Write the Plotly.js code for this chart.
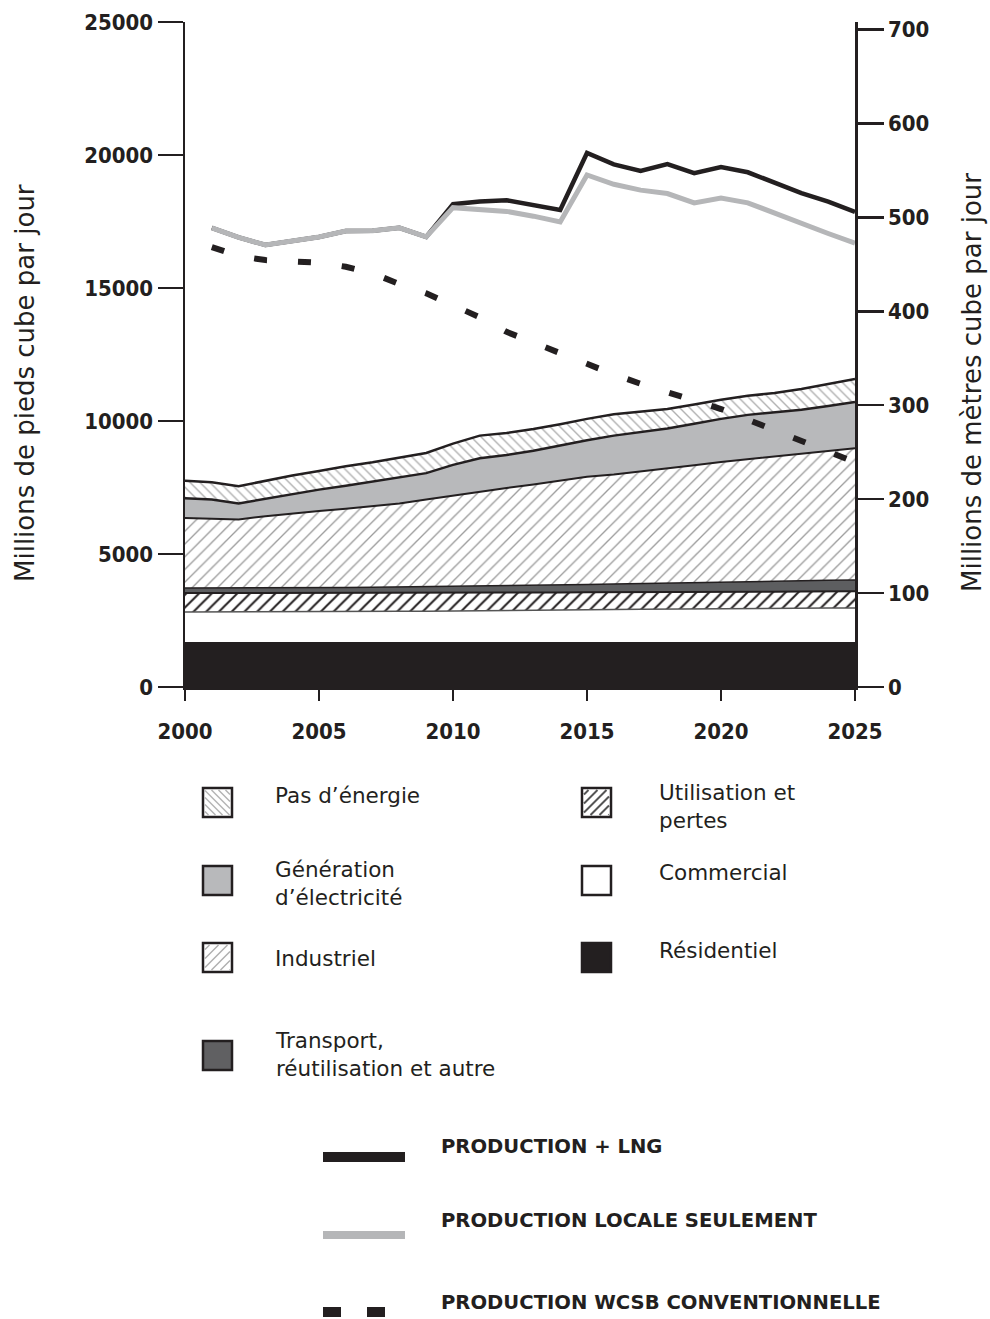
<!DOCTYPE html>
<html><head><meta charset="utf-8">
<script src="https://cdn.plot.ly/plotly-3.0.1.min.js"></script>
<style>body{margin:0;background:#fff}#chart{width:990px;height:1319px}</style>
</head><body><div id="chart"></div>
<script>
// ---------- DATA (millions of cubic feet per day) ----------
const years = [2000,2001,2002,2003,2004,2005,2006,2007,2008,2009,2010,2011,2012,2013,2014,2015,2016,2017,2018,2019,2020,2021,2022,2023,2024,2025];
const residentiel = [1690,1690,1690,1690,1690,1690,1690,1690,1690,1690,1690,1690,1690,1690,1690,1690,1690,1690,1690,1690,1690,1690,1690,1690,1690,1690];
const commercial  = [1130,1130,1130,1135,1140,1140,1145,1150,1155,1160,1165,1170,1180,1190,1200,1210,1220,1230,1240,1250,1260,1265,1270,1275,1280,1280];
const utilisation = [710,710,710,705,700,700,700,695,695,690,690,685,680,670,665,660,650,645,640,630,625,625,625,625,625,630];
const transport   = [190,190,190,195,200,200,205,215,220,230,235,245,250,260,275,290,310,325,340,360,375,385,395,405,415,420];
const industriel  = [2630,2610,2580,2695,2800,2890,2960,3040,3140,3280,3420,3560,3680,3800,3920,4050,4120,4210,4310,4410,4510,4595,4680,4765,4860,4960];
const electricite = [750,720,600,660,730,800,870,930,980,990,1150,1250,1240,1270,1330,1380,1460,1480,1500,1560,1620,1670,1660,1660,1690,1730];
const pasEnergie  = [650,650,650,670,690,700,730,730,740,760,800,850,830,820,800,800,800,770,730,720,720,720,730,780,820,870];

const lineYears = [2001,2002,2003,2004,2005,2006,2007,2008,2009,2010,2011,2012,2013,2014,2015,2016,2017,2018,2019,2020,2021,2022,2023,2024,2025];
const productionLNG = [17260,16900,16620,16780,16920,17140,17150,17260,16920,18150,18250,18300,18120,17930,20075,19650,19400,19660,19320,19550,19350,18950,18570,18250,17860];
const productionLocale = [17260,16900,16620,16780,16920,17140,17150,17260,16920,18020,17950,17880,17700,17480,19250,18900,18680,18550,18200,18380,18200,17800,17400,17050,16690];
const productionWCSB = [16540,16200,16050,16000,15950,15800,15550,15150,14800,14350,13900,13350,12950,12550,12100,11750,11400,11100,10800,10450,10050,9650,9200,8800,8450];

const xTicks = [2000,2005,2010,2015,2020,2025];
const yTicksLeft = [0,5000,10000,15000,20000,25000];
const yTickTextLeft = ['0','5000','10000','15000','20000','25000'];
const yTicksRight = [0,100,200,300,400,500,600,700];
const FT3_PER_M3 = 35.3147;

const labels = {
  yLeft: 'Millions de pieds cube par jour',
  yRight: 'Millions de mètres cube par jour',
  pas: "Pas d’énergie",
  elec: "Génération<br>d’électricité",
  ind: "Industriel",
  trans: "Transport,<br>réutilisation et autre",
  util: "Utilisation et<br>pertes",
  com: "Commercial",
  res: "Résidentiel",
  lng: "PRODUCTION + LNG",
  loc: "PRODUCTION LOCALE SEULEMENT",
  wcsb: "PRODUCTION WCSB CONVENTIONNELLE"
};

// ---------- STYLE ----------
const INK = '#231f20';
const GREY = '#b8b9bb';
const DARK = '#5d5e60';

function band(y, name, extra){
  return Object.assign({x: years, y: y, name: name, type:'scatter', mode:'lines',
    stackgroup:'one', hoverinfo:'skip', showlegend:false,
    line:{color:INK, width:2, shape:'linear'}}, extra);
}

const traces = [
  band(residentiel, 'res', {fillcolor: INK, line:{color:INK, width:0}}),
  band(commercial, 'com', {fillcolor:'#ffffff', line:{color:'#555', width:1.5}}),
  band(utilisation, 'util', {fillcolor:'#ffffff', fillpattern:{shape:'/', fgcolor:INK, bgcolor:'#ffffff', size:9, solidity:0.22}, line:{color:INK, width:2}}),
  band(transport, 'trans', {fillcolor:DARK, line:{color:INK, width:1.5}}),
  band(industriel, 'ind', {fillcolor:'#ffffff', fillpattern:{shape:'/', fgcolor:'#9c9c9c', bgcolor:'#ffffff', size:9, solidity:0.15}, line:{color:INK, width:2}}),
  band(electricite, 'elec', {fillcolor:GREY, line:{color:INK, width:2.5}}),
  band(pasEnergie, 'pas', {fillcolor:'#ffffff', fillpattern:{shape:'\\', fgcolor:'#b0b0b0', bgcolor:'#ffffff', size:7, solidity:0.2}, line:{color:INK, width:2.5}}),
  {x: lineYears, y: productionLNG, type:'scatter', mode:'lines', line:{color:INK, width:4.5}, hoverinfo:'skip', showlegend:false},
  {x: lineYears, y: productionLocale, type:'scatter', mode:'lines', line:{color:'#b5b6b8', width:5}, hoverinfo:'skip', showlegend:false},
  {x: lineYears, y: productionWCSB, type:'scatter', mode:'lines', line:{color:INK, width:6, dash:'13px,31px'}, hoverinfo:'skip', showlegend:false},
  {x: [2000], y: [0], yaxis:'y2', type:'scatter', mode:'markers', marker:{opacity:0}, hoverinfo:'skip', showlegend:false}
];

// ---------- LEGEND (shapes + annotations in paper coords) ----------
const L=185, R=855, T=22, B=687;
const px = x => (x-L)/(R-L);
const py = y => (B-y)/(B-T);

const shapes = [];
const annotations = [];

function hatch(x0,y0,x1,y1,s,dir,color,w){
  let d='';
  if(dir==='/'){
    for(let c=x0+y0+s/2; c<x1+y1; c+=s){
      const xa=Math.max(x0,c-y1), xb=Math.min(x1,c-y0);
      if(xb<=xa) continue;
      d+=`M${px(xa)},${py(c-xa)} L${px(xb)},${py(c-xb)} `;
    }
  } else {
    for(let c=x0-y1+s/2; c<x1-y0; c+=s){
      const xa=Math.max(x0,c+y0), xb=Math.min(x1,c+y1);
      if(xb<=xa) continue;
      d+=`M${px(xa)},${py(xa-c)} L${px(xb)},${py(xb-c)} `;
    }
  }
  shapes.push({type:'path', xref:'paper', yref:'paper', path:d, line:{color:color, width:w}});
}
function box(x0,y0,fill,border){
  shapes.push({type:'rect', xref:'paper', yref:'paper', x0:px(x0), x1:px(x0+29), y0:py(y0+29), y1:py(y0),
    fillcolor:fill, line:{color:border, width:2.5}, layer:'above'});
}
function boxHatch(x0,y0,dir,color,s,w){
  shapes.push({type:'rect', xref:'paper', yref:'paper', x0:px(x0), x1:px(x0+29), y0:py(y0+29), y1:py(y0),
    fillcolor:'#fff', line:{width:0}});
  hatch(x0+2,y0+2,x0+27,y0+27,s,dir,color,w);
  shapes.push({type:'rect', xref:'paper', yref:'paper', x0:px(x0), x1:px(x0+29), y0:py(y0+29), y1:py(y0),
    fillcolor:'rgba(0,0,0,0)', line:{color:INK, width:2.5}});
}
function text(x,y,t,opts){
  annotations.push(Object.assign({xref:'paper', yref:'paper', x:px(x), y:py(y), text:t, showarrow:false,
    xanchor:'left', yanchor:'middle', align:'left',
    font:{family:'DejaVu Sans', size:21.5, color:INK}}, opts||{}));
}

boxHatch(203,788,'\\','#b5b5b5',7,1.5);
text(273,795,labels.pas);
box(203,866,GREY,INK);
text(273,884,labels.elec);
boxHatch(203,943,'/','#b0b0b0',9,1.5);
text(273,958,labels.ind);
box(203,1041,'#606062',INK);
text(273,1054,labels.trans);

boxHatch(582,788,'/','#555',9,2);
text(657,806,labels.util);
box(582,866,'#ffffff',INK);
text(657,872,labels.com);
box(582,943,INK,INK);
text(657,950,labels.res);

// line legend swatches
shapes.push({type:'line', xref:'paper', yref:'paper', x0:px(323), x1:px(405), y0:py(1157), y1:py(1157), line:{color:INK, width:10}});
shapes.push({type:'line', xref:'paper', yref:'paper', x0:px(323), x1:px(405), y0:py(1235), y1:py(1235), line:{color:'#b5b6b8', width:8}});
shapes.push({type:'line', xref:'paper', yref:'paper', x0:px(323), x1:px(341), y0:py(1312), y1:py(1312), line:{color:INK, width:10}});
shapes.push({type:'line', xref:'paper', yref:'paper', x0:px(367), x1:px(385), y0:py(1312), y1:py(1312), line:{color:INK, width:10}});
const boldF = {family:'DejaVu Sans', size:19.6, color:INK, weight:'bold'};
text(439,1146,labels.lng,{font:boldF});
text(439,1220,labels.loc,{font:boldF});
text(439,1302,labels.wcsb,{font:boldF});

// axis titles
const titleFont = {family:'DejaVu Sans', size:26, color:INK};
text(25,383,labels.yLeft,{textangle:-90, xanchor:'center', yanchor:'middle', font:titleFont});
text(972,383,labels.yRight,{textangle:-90, xanchor:'center', yanchor:'middle', font:titleFont});

// ---------- LAYOUT ----------
const tickFont = {family:'DejaVu Sans Condensed, DejaVu Sans', size:22, color:INK, weight:'bold'};

const layout = {
  width:990, height:1319,
  margin:{l:L, r:990-R, t:T, b:1319-B, pad:0},
  paper_bgcolor:'#fff', plot_bgcolor:'rgba(0,0,0,0)',
  showlegend:false,
  xaxis:{range:[2000,2025], tickvals:xTicks, ticks:'outside', ticklen:11, tickwidth:2.5, tickcolor:INK, ticklabelstandoff:12,
    showline:true, linecolor:INK, linewidth:2.5, showgrid:false, zeroline:false, tickfont:tickFont, fixedrange:true},
  yaxis:{range:[0,25000], tickvals:yTicksLeft, ticktext:yTickTextLeft, ticks:'outside', ticklen:25, tickwidth:2.5, tickcolor:INK,
    showline:true, linecolor:INK, linewidth:2.5, showgrid:false, zeroline:false, tickfont:tickFont, fixedrange:true},
  yaxis2:{range:[0,25000/FT3_PER_M3], overlaying:'y', side:'right', tickvals:yTicksRight, ticks:'outside', ticklen:26, tickwidth:2.5, tickcolor:INK,
    showline:true, linecolor:INK, linewidth:2.5, showgrid:false, zeroline:false, tickfont:tickFont, fixedrange:true},
  shapes:shapes,
  annotations:annotations
};

Plotly.newPlot('chart', traces, layout, {staticPlot:true, displayModeBar:false});
</script>
</body></html>
